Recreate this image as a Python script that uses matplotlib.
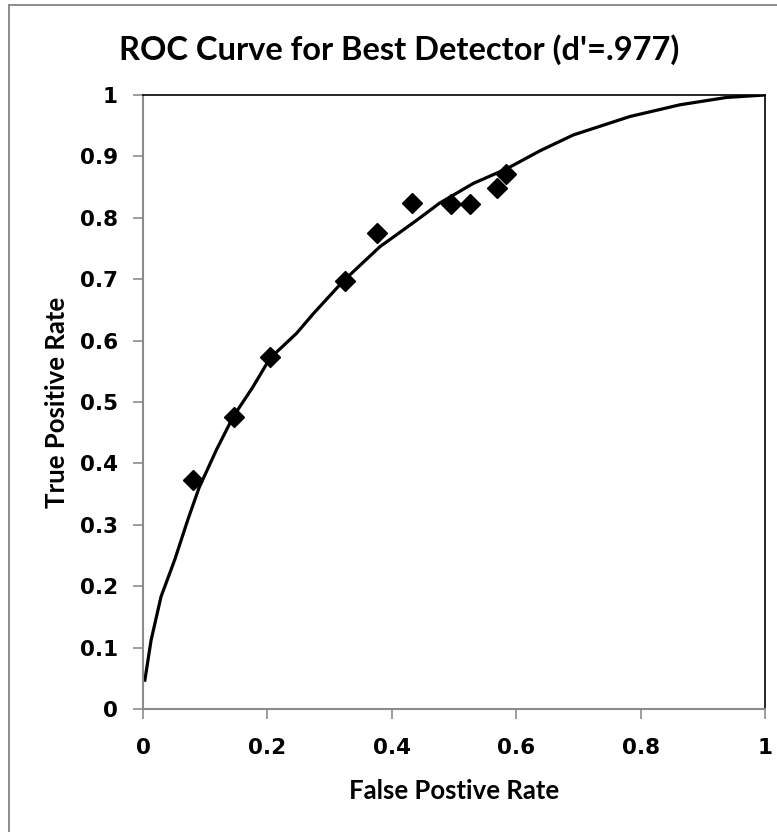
import matplotlib
matplotlib.use("Agg")
import matplotlib.pyplot as plt
from matplotlib.lines import Line2D

# Observed data points
fpr_points = [0.081, 0.146, 0.204, 0.325, 0.377, 0.432, 0.495, 0.526, 0.569, 0.584]
tpr_points = [0.373, 0.475, 0.573, 0.697, 0.775, 0.824, 0.823, 0.823, 0.848, 0.871]

# Fitted ROC curve
curve_x = [0.003, 0.013, 0.029, 0.051, 0.072, 0.09, 0.118, 0.145, 0.177, 0.204,
           0.247, 0.274, 0.322, 0.381, 0.44, 0.477, 0.531, 0.585, 0.638, 0.692,
           0.783, 0.863, 0.938, 1.0]
curve_y = [0.047, 0.112, 0.183, 0.243, 0.308, 0.36, 0.422, 0.476, 0.525, 0.571,
           0.612, 0.644, 0.697, 0.753, 0.796, 0.824, 0.856, 0.880, 0.909, 0.935,
           0.965, 0.984, 0.996, 1.0]

x_ticks = [0, 0.2, 0.4, 0.6, 0.8, 1]
x_ticklabels = ["0", "0.2", "0.4", "0.6", "0.8", "1"]
y_ticks = [0, 0.1, 0.2, 0.3, 0.4, 0.5, 0.6, 0.7, 0.8, 0.9, 1]
y_ticklabels = ["0", "0.1", "0.2", "0.3", "0.4", "0.5", "0.6", "0.7", "0.8", "0.9", "1"]

title = "ROC Curve for Best Detector (d'=.977)"
xlabel = "False Postive Rate"
ylabel = "True Positive Rate"

W, H = 777, 832
fig = plt.figure(figsize=(W / 100, H / 100), dpi=100)
fig.patch.set_facecolor("white")

# outer chart border (only left and top visible in the crop)
fig.add_artist(Line2D([8.5 / W, 8.5 / W], [0, 1 - 4.5 / H], transform=fig.transFigure,
                      color="#8c8c8c", linewidth=1.4))
fig.add_artist(Line2D([8.5 / W, 1], [1 - 4.5 / H, 1 - 4.5 / H], transform=fig.transFigure,
                      color="#8c8c8c", linewidth=1.4))

ax = fig.add_axes([143 / W, 1 - 709 / H, (765 - 143) / W, (709 - 95) / H])
ax.plot(curve_x, curve_y, color="black", linewidth=2.3, solid_joinstyle="round", zorder=2)
ax.plot(fpr_points, tpr_points, linestyle="none", marker="D", markersize=10,
        color="black", zorder=3)

ax.set_xlim(0, 1)
ax.set_ylim(0, 1)
ax.set_xticks(x_ticks)
ax.set_xticklabels(x_ticklabels)
ax.set_yticks(y_ticks)
ax.set_yticklabels(y_ticklabels)

for s in ["left", "bottom"]:
    ax.spines[s].set_color("#8c8c8c")
    ax.spines[s].set_linewidth(1.5)
for s in ["top", "right"]:
    ax.spines[s].set_color("black")
    ax.spines[s].set_linewidth(1.2)

ax.tick_params(axis="both", direction="out", length=7, width=1.2, color="#8c8c8c",
               labelsize=15.5)
ax.tick_params(axis="x", pad=14)
ax.tick_params(axis="y", pad=11)
for lab in ax.get_xticklabels() + ax.get_yticklabels():
    lab.set_fontweight("bold")
    lab.set_family("DejaVu Sans")

ax.set_xlabel(xlabel, fontsize=18.5, fontweight="bold", family="Lato", labelpad=15)
ax.set_ylabel(ylabel, fontsize=18.5, fontweight="bold", family="Lato", labelpad=8)
fig.text(399 / W, 1 - 50 / H, title, fontsize=23.5, fontweight="bold", family="Lato",
         ha="center", va="center")

fig.savefig("out.png", dpi=100)
